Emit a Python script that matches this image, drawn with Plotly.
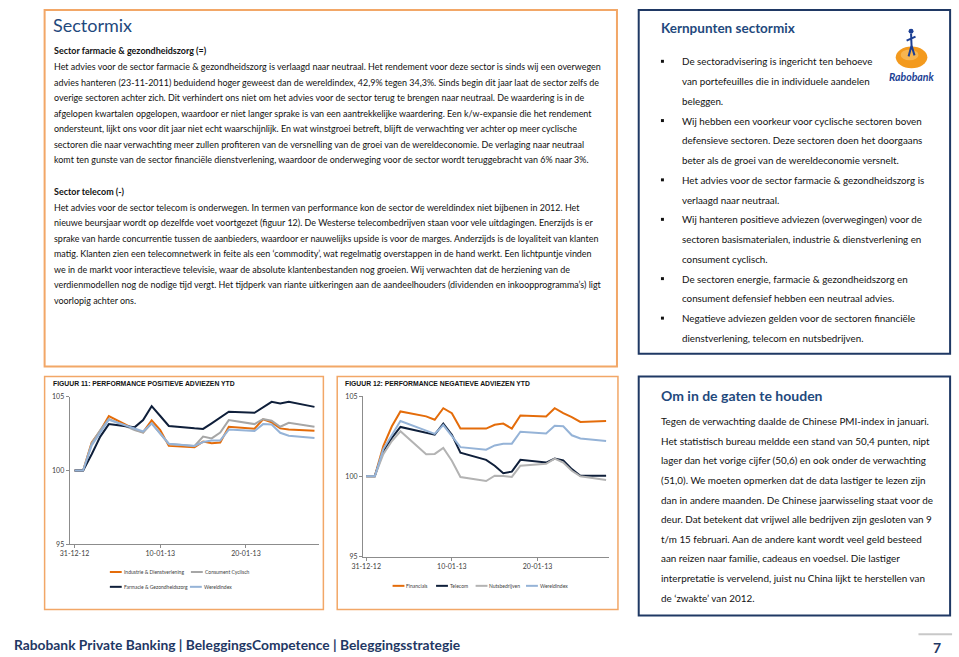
import plotly.graph_objects as go

# ---------------- data ----------------
dates = ["2012-12-31", "2013-01-01", "2013-01-02", "2013-01-03", "2013-01-04",
         "2013-01-07", "2013-01-08", "2013-01-09", "2013-01-10", "2013-01-11",
         "2013-01-14", "2013-01-15", "2013-01-16", "2013-01-17", "2013-01-18",
         "2013-01-21", "2013-01-22", "2013-01-23", "2013-01-24", "2013-01-25",
         "2013-01-28"]

industrie = [100, 100, 101.9, 102.7, 103.7, 102.8, 102.6, 103.4, 102.75, 101.67,
             101.58, 101.96, 101.85, 101.9, 102.97, 102.84, 103.47, 103.27, 102.86, 102.79, 102.7]
consument = [100, 100, 101.85, 102.75, 103.5, 102.75, 102.57, 103.2, 102.5, 101.8,
             101.67, 102.3, 102.18, 102.57, 103.42, 103.15, 103.5, 103.38, 102.97, 103.24, 102.97]
farmacie = [100, 100, 101.1, 102.3, 103.15, 102.93, 103.42, 104.37, 103.7, 103.02,
            102.86, 102.82, 103.2, 103.58, 103.99, 103.92, 104.32, 104.66, 104.55, 104.66, 104.32]
wereldindex = [100, 100, 101.7, 102.6, 103.45, 102.85, 102.65, 103.2, 102.5, 101.82,
               101.66, 101.93, 102.03, 102.04, 102.78, 102.68, 103.15, 103.12, 102.56, 102.36, 102.21]

financials = [100, 100, 101.89, 103.12, 104.05, 103.74, 103.53, 104.25, 103.94, 102.98,
              102.98, 103.22, 103.29, 102.98, 103.8, 103.74, 104.25, 103.94, 103.7, 103.39, 103.45]
telecom = [100, 100, 101.58, 102.4, 103.08, 102.75, 102.6, 103.29, 102.6, 101.48,
           101.03, 100.66, 100.2, 100.29, 101.03, 100.86, 101.11, 101.0, 100.45, 100.04, 100.04]
nutsbedrijven = [100, 100, 101.38, 102.2, 102.81, 101.38, 101.4, 101.77, 100.97, 99.96,
                 99.71, 100.04, 100.02, 99.96, 100.66, 100.78, 101.11, 100.86, 100.35, 100.0, 99.77]

x_tickvals = ["2012-12-31", "2013-01-10", "2013-01-20"]
x_ticktext = ["31-12-12", "10-01-13", "20-01-13"]
y_tickvals = [95, 100, 105]

fig11_series = [("Industrie & Dienstverlening", industrie, "#e46c0a"),
                ("Consument Cyclisch", consument, "#a6a6a6"),
                ("Farmacie & Gezondheidszorg", farmacie, "#0f1f3a"),
                ("Wereldindex", wereldindex, "#95b3d7")]
fig12_series = [("Financials", financials, "#e46c0a"),
                ("Telecom", telecom, "#0f1f3a"),
                ("Nutsbedrijven", nutsbedrijven, "#b3b3b3"),
                ("Wereldindex", wereldindex, "#95b3d7")]

sector_title = "Sectormix"
farma_head = "Sector farmacie & gezondheidszorg (=)"
farma_lines = [
    "Het advies voor de sector farmacie & gezondheidszorg is verlaagd naar neutraal. Het rendement voor deze sector is sinds wij een overwegen",
    "advies hanteren (23-11-2011) beduidend hoger geweest dan de wereldindex, 42,9% tegen 34,3%. Sinds begin dit jaar laat de sector zelfs de",
    "overige sectoren achter zich. Dit verhindert ons niet om het advies voor de sector terug te brengen naar neutraal. De waardering is in de",
    "afgelopen kwartalen opgelopen, waardoor er niet langer sprake is van een aantrekkelijke waardering. Een k/w-expansie die het rendement",
    "ondersteunt, lijkt ons voor dit jaar niet echt waarschijnlijk. En wat winstgroei betreft, blijft de verwachting ver achter op meer cyclische",
    "sectoren die naar verwachting meer zullen profiteren van de versnelling van de groei van de wereldeconomie. De verlaging naar neutraal",
    "komt ten gunste van de sector financiële dienstverlening, waardoor de onderweging voor de sector wordt teruggebracht van 6% naar 3%.",
]
telecom_head = "Sector telecom (-)"
telecom_lines = [
    "Het advies voor de sector telecom is onderwegen. In termen van performance kon de sector de wereldindex niet bijbenen in 2012. Het",
    "nieuwe beursjaar wordt op dezelfde voet voortgezet (figuur 12). De Westerse telecombedrijven staan voor vele uitdagingen. Enerzijds is er",
    "sprake van harde concurrentie tussen de aanbieders, waardoor er nauwelijks upside is voor de marges. Anderzijds is de loyaliteit van klanten",
    "matig. Klanten zien een telecomnetwerk in feite als een ‘commodity’, wat regelmatig overstappen in de hand werkt. Een lichtpuntje vinden",
    "we in de markt voor interactieve televisie, waar de absolute klantenbestanden nog groeien. Wij verwachten dat de herziening van de",
    "verdienmodellen nog de nodige tijd vergt. Het tijdperk van riante uitkeringen aan de aandeelhouders (dividenden en inkoopprogramma’s) ligt",
    "voorlopig achter ons.",
]
kern_title = "Kernpunten sectormix"
kern_lines = [
    (True, "De sectoradvisering is ingericht ten behoeve"),
    (False, "van portefeuilles die in individuele aandelen"),
    (False, "beleggen."),
    (True, "Wij hebben een voorkeur voor cyclische sectoren boven"),
    (False, "defensieve sectoren. Deze sectoren doen het doorgaans"),
    (False, "beter als de groei van de wereldeconomie versnelt."),
    (True, "Het advies voor de sector farmacie & gezondheidszorg is"),
    (False, "verlaagd naar neutraal."),
    (True, "Wij hanteren positieve adviezen (overwegingen) voor de"),
    (False, "sectoren basismaterialen, industrie & dienstverlening en"),
    (False, "consument cyclisch."),
    (True, "De sectoren energie, farmacie & gezondheidszorg en"),
    (False, "consument defensief hebben een neutraal advies."),
    (True, "Negatieve adviezen gelden voor de sectoren financiële"),
    (False, "dienstverlening, telecom en nutsbedrijven."),
]
om_title = "Om in de gaten te houden"
om_lines = [
    "Tegen de verwachting daalde de Chinese PMI-index in januari.",
    "Het statistisch bureau meldde een stand van 50,4 punten, nipt",
    "lager dan het vorige cijfer (50,6) en ook onder de verwachting",
    "(51,0). We moeten opmerken dat de data lastiger te lezen zijn",
    "dan in andere maanden. De Chinese jaarwisseling staat voor de",
    "deur. Dat betekent dat vrijwel alle bedrijven zijn gesloten van 9",
    "t/m 15 februari. Aan de andere kant wordt veel geld besteed",
    "aan reizen naar familie, cadeaus en voedsel. Die lastiger",
    "interpretatie is vervelend, juist nu China lijkt te herstellen van",
    "de ‘zwakte’ van 2012.",
]
fig11_title = "FIGUUR 11: PERFORMANCE POSITIEVE ADVIEZEN YTD"
fig12_title = "FIGUUR 12: PERFORMANCE NEGATIEVE ADVIEZEN YTD"
footer_text = "Rabobank Private Banking | BeleggingsCompetence | Beleggingsstrategie"
page_number = "7"

# ---------------- helpers ----------------
W, H = 959, 657
def px(x):
    return x / W
def py(y):
    return 1 - y / H

NAVY = "#1f3864"
TITLE = "#1f497d"
ORANGE_BOX = "#f2a767"
FONT = "Lato"

annotations = []
shapes = []

def text(x, y, s, size, color="#111111", anchor="left", family=FONT):
    annotations.append(dict(x=px(x), y=py(y), xref="paper", yref="paper", text=s,
                            showarrow=False, xanchor=anchor, yanchor="middle",
                            font=dict(family=family, size=size, color=color),
                            borderpad=0))

def rect(x0, y0, x1, y1, color, width, fill=None):
    shapes.append(dict(type="rect", xref="paper", yref="paper", x0=px(x0), x1=px(x1),
                       y0=py(y1), y1=py(y0), line=dict(color=color, width=width),
                       fillcolor=fill if fill else "rgba(0,0,0,0)", layer="below"))

def hline(x0, x1, y, color, width):
    shapes.append(dict(type="line", xref="paper", yref="paper", x0=px(x0), x1=px(x1),
                       y0=py(y), y1=py(y), line=dict(color=color, width=width)))

# ---------------- figure ----------------
fig = go.Figure()

for name, vals, col in fig11_series:
    fig.add_trace(go.Scatter(x=dates, y=vals, mode="lines", name=name,
                             line=dict(color=col, width=2), xaxis="x", yaxis="y",
                             showlegend=False))
for name, vals, col in fig12_series:
    fig.add_trace(go.Scatter(x=dates, y=vals, mode="lines", name=name,
                             line=dict(color=col, width=2), xaxis="x2", yaxis="y2",
                             showlegend=False))

axis_common = dict(showline=True, linecolor="#8c8c8c", linewidth=1, ticks="outside",
                   ticklen=3, tickcolor="#8c8c8c", showgrid=False, zeroline=False,
                   tickfont=dict(family=FONT, size=7, color="#404040"))

# boxes
rect(34, 5, 613, 366, ORANGE_BOX, 2)
rect(635, 5, 950, 353, NAVY, 2)
rect(34, 376, 316, 612, ORANGE_BOX, 1.5)
rect(330, 376, 614, 612, ORANGE_BOX, 1.5)
rect(635, 376, 950, 618, NAVY, 2)

# left text box
BODY_A = 8.95
text(41, 20, sector_title, 18, TITLE)
text(42, 46, "<b>" + farma_head + "</b>", BODY_A)
for i, s in enumerate(farma_lines):
    text(42, 62.5 + 15.7 * i, s, BODY_A)
text(42, 189, "<b>" + telecom_head + "</b>", BODY_A)
for i, s in enumerate(telecom_lines):
    text(42, 204.7 + 15.7 * i, s, BODY_A)

# kernpunten box
text(657, 23, "<b>" + kern_title + "</b>", 13.5, TITLE)
for i, (bullet, s) in enumerate(kern_lines):
    yy = 57 + 20 * i
    if bullet:
        shapes.append(dict(type="rect", xref="paper", yref="paper", x0=px(657.5), x1=px(660.5),
                           y0=py(yy + 1.5), y1=py(yy - 1.5), fillcolor="#111111",
                           line=dict(width=0)))
    text(678, yy, s, 9.8)

# Rabobank logo
shapes.append(dict(type="circle", xref="paper", yref="paper", x0=px(895), x1=px(927),
                   y0=py(64), y1=py(42), fillcolor="#f39a1e", line=dict(width=0)))
shapes.append(dict(type="circle", xref="paper", yref="paper", x0=px(900), x1=px(918),
                   y0=py(56), y1=py(45), fillcolor="#f7b550", line=dict(width=0)))
shapes.append(dict(type="circle", xref="paper", yref="paper", x0=px(908), x1=px(913),
                   y0=py(29), y1=py(24), fillcolor="#1c3f94", line=dict(width=0)))
fig_path = "M {a} {b} L {c} {d} M {e} {f} L {g} {h} M {c} {d} L {i} {j} M {c} {d} L {k} {l}".format(
    a=px(910.5), b=py(29), c=px(911), d=py(41), e=px(906), f=py(36), g=px(915), h=py(32),
    i=px(908), j=py(52), k=px(914), l=py(51))
shapes.append(dict(type="path", xref="paper", yref="paper", path=fig_path,
                   line=dict(color="#1c3f94", width=2)))
text(911, 73, "<b><i>Rabobank</i></b>", 10.5, "#1c3f94", anchor="center")

# om in de gaten box
text(657, 395, "<b>" + om_title + "</b>", 14, TITLE)
for i, s in enumerate(om_lines):
    text(657, 421 + 19.9 * i, s, 9.9)

# chart titles
text(41, 383, "<b>" + fig11_title + "</b>", 6.8, "#111111", family="Liberation Sans")
text(337, 383, "<b>" + fig12_title + "</b>", 6.8, "#111111", family="Liberation Sans")

# manual legends
leg11 = [(100, 574, fig11_series[0]), (182, 574, fig11_series[1]),
         (100, 589, fig11_series[2]), (181, 589, fig11_series[3])]
for x0, yy, (name, _, col) in leg11:
    hline(x0, x0 + 12, yy, col, 2)
    text(x0 + 13, yy, name, 5, "#404040")
leg12 = [(386, 588, fig12_series[0]), (430, 588, fig12_series[1]),
         (470, 588, fig12_series[2]), (521, 588, fig12_series[3])]
for x0, yy, (name, _, col) in leg12:
    hline(x0, x0 + 12, yy, col, 2)
    text(x0 + 13, yy, name, 5, "#404040")

# footer
text(2, 647, "<b>" + footer_text + "</b>", 13.8, NAVY)
hline(918, 952, 637, "#c8c8c8", 2)
text(937, 650, "<b>" + page_number + "</b>", 14, NAVY, anchor="center")

fig.update_layout(
    width=W, height=H, autosize=False,
    margin=dict(l=0, r=0, t=0, b=0),
    paper_bgcolor="white", plot_bgcolor="white",
    showlegend=False,
    xaxis=dict(type="date", domain=[px(59.3), px(312)],
               range=["2012-12-30 10:09", "2013-01-28 13:51"],
               tickvals=x_tickvals, ticktext=x_ticktext, anchor="y", **axis_common),
    yaxis=dict(domain=[py(545.7), py(396.7)], range=[95, 105], tickvals=y_tickvals,
               anchor="x", **axis_common),
    xaxis2=dict(type="date", domain=[px(356), px(605)],
                range=["2012-12-30 14:54", "2013-01-28 08:18"],
                tickvals=x_tickvals, ticktext=x_ticktext, anchor="y2", **axis_common),
    yaxis2=dict(domain=[py(558.3), py(396)], range=[95, 105], tickvals=y_tickvals,
                anchor="x2", **axis_common),
    annotations=annotations,
    shapes=shapes,
)

fig.write_html("out.html", config={"displayModeBar": False},
               post_script="document.body.style.margin='0';document.body.style.overflow='hidden';")
